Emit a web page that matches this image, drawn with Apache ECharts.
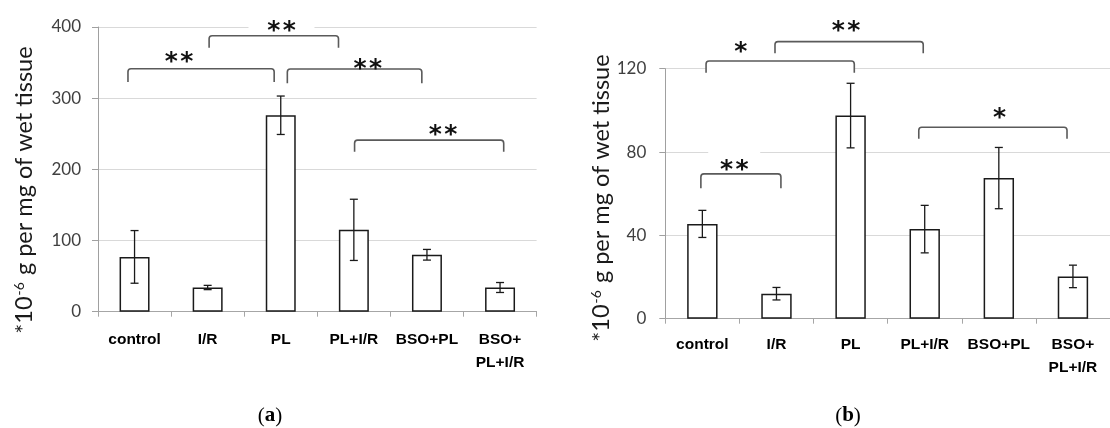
<!DOCTYPE html>
<html><head><meta charset="utf-8">
<script src="https://cdn.jsdelivr.net/npm/echarts@6/dist/echarts.min.js"></script>
<style>html,body{margin:0;padding:0;background:#fff}#c{width:1110px;height:428px}</style>
</head><body><div id="c"></div>
<script>
// ---------- data ----------
const categories = ['control', 'I/R', 'PL', 'PL+I/R', 'BSO+PL', 'BSO+\nPL+I/R'];
// panel (a)
const valuesA = [77, 34, 276, 115, 80, 34];
const errorsA = [37, 3, 27, 43, 7.5, 7];
const yMaxA = 400, yStepA = 100;
// significance brackets (a): [xStart, xEnd, yTop, yLegEnd, starX, starY] in category/value units
const bracketsA = [
  [-0.09, 1.91, 341.4, 322.7, 0.61, 360.7],
  [1.02, 2.79, 387.7, 370.9, 2.01, 405.6],
  [2.09, 3.93, 341.0, 320.9, 3.19, 352.0],
  [3.01, 5.05, 241.0, 224.8, 4.22, 258.5]
];
const starsA = [2, 2, 2, 2];
// panel (b)
const valuesB = [45.5, 12, 97.5, 43, 67.5, 20.3];
const errorsB = [6.5, 3, 15.5, 11.4, 14.7, 5.4];
const yMaxB = 120, yStepB = 40;
const bracketsB = [
  [0.05, 2.05, 123.7, 118.1, 0.52, 131.4],
  [0.98, 2.98, 133.0, 127.4, 1.94, 141.5],
  [-0.02, 1.06, 69.5, 62.6, 0.43, 75.1],
  [2.92, 4.92, 91.9, 86.4, 4.01, 99.7]
];
const starsB = [1, 2, 2, 1];
const yName = '*10{sup|-6} g per mg of wet tissue';

// ---------- styling ----------
const starBoxA = [0, 66, 0, 0];   // white text-box widths behind stars (px)
const starBoxB = [0, 0, 52, 0];

const chart = echarts.init(document.getElementById('c'), null, {renderer: 'canvas'});

function errRender(params, api) {
  const x = api.value(0), lo = api.value(1), hi = api.value(2);
  const a = api.coord([x, lo]), b = api.coord([x, hi]);
  const cw = 4;
  const st = {stroke: '#1a1a1a', lineWidth: 1.3};
  return {type: 'group', children: [
    {type: 'line', shape: {x1: a[0], y1: a[1], x2: b[0], y2: b[1]}, style: st},
    {type: 'line', shape: {x1: a[0] - cw, y1: a[1], x2: a[0] + cw, y2: a[1]}, style: st},
    {type: 'line', shape: {x1: b[0] - cw, y1: b[1], x2: b[0] + cw, y2: b[1]}, style: st}
  ]};
}

function makeBracketRender(stars, boxes) {
  return function (params, api) {
    const i = params.dataIndex;
    const x1 = api.value(0), x2 = api.value(1), yt = api.value(2), yl = api.value(3);
    const sx = api.value(4), sy = api.value(5);
    const p1 = api.coord([x1, yt]), p2 = api.coord([x2, yt]);
    const l1 = api.coord([x1, yl]), s = api.coord([sx, sy]);
    const children = [];
    if (boxes[i]) {
      children.push({type: 'rect', shape: {x: s[0] - boxes[i] / 2, y: s[1] - 13, width: boxes[i], height: 26},
        style: {fill: '#ffffff'}});
    }
    children.push({type: 'rect', shape: {x: p1[0], y: p1[1], width: p2[0] - p1[0], height: l1[1] - p1[1]},
      style: {fill: '#ffffff'}});
    const r = 3;
    children.push({type: 'path', shape: {
      pathData: 'M' + p1[0] + ' ' + l1[1] + ' L' + p1[0] + ' ' + (p1[1] + r) +
        ' Q' + p1[0] + ' ' + p1[1] + ' ' + (p1[0] + r) + ' ' + p1[1] +
        ' L' + (p2[0] - r) + ' ' + p2[1] + ' Q' + p2[0] + ' ' + p2[1] + ' ' + p2[0] + ' ' + (p2[1] + r) +
        ' L' + p2[0] + ' ' + l1[1]
    }, style: {stroke: '#5a5a5a', lineWidth: 1.6, fill: null}});
    let t = '';
    for (let k = 0; k < stars[i]; k++) t += '{s|*}';
    children.push({type: 'text', x: s[0], y: s[1] + 8, style: {
      text: t, font: 'bold 25px "DejaVu Sans"', fill: '#111', align: 'center', verticalAlign: 'middle',
      rich: {s: {fontSize: 25, fontFamily: 'DejaVu Sans', fontWeight: 'bold', fill: '#111', padding: [0, 1.2, 0, 1.2]}}}});
    return {type: 'group', children};
  };
}

function catAxis(grid, labelMargin) {
  return {
    type: 'category', gridIndex: grid, data: categories, boundaryGap: true,
    axisLine: {onZero: false, lineStyle: {color: '#a6a6a6', width: 1}},
    axisTick: {show: true, length: 5, lineStyle: {color: '#a6a6a6'}},
    axisLabel: {color: '#000', fontFamily: 'Liberation Sans', fontWeight: 'bold', fontSize: 15.5,
      lineHeight: 23, margin: labelMargin, interval: 0},
    splitLine: {show: false}
  };
}
function hiddenX(grid) {
  return {type: 'value', gridIndex: grid, min: -0.5, max: 5.5, show: false,
    axisLine: {show: false, onZero: false}, axisTick: {show: false}, axisLabel: {show: false},
    splitLine: {show: false}};
}
function valAxis(grid, max, step, margin) {
  return {
    type: 'value', gridIndex: grid, min: 0, max: max, interval: step,
    axisLine: {show: true, onZero: false, lineStyle: {color: '#a0a0a0', width: 1}},
    axisTick: {show: true, length: 6, lineStyle: {color: '#a0a0a0'}},
    axisLabel: {color: '#404040', fontFamily: 'Lato', fontSize: 17, margin: margin},
    splitLine: {show: true, lineStyle: {color: '#d9d9d9', width: 1}}
  };
}
const barStyle = {color: '#ffffff', borderColor: '#1a1a1a', borderWidth: 1.5};

const nameStyle = (x, y) => ({type: 'text', x: x, y: y, rotation: Math.PI / 2, style: {
  text: yName, font: '23.5px Lato', fill: '#1a1a1a', align: 'center', verticalAlign: 'middle',
  rich: {sup: {fontSize: 14, fontFamily: 'Lato', fill: '#1a1a1a', verticalAlign: 'top', padding: [0, 1, 10, 1]}}}});

const option = {
  animation: false,
  backgroundColor: '#ffffff',
  grid: [
    {left: 98, top: 27, width: 438.6, height: 284.7, containLabel: false},
    {left: 665.3, top: 68.7, width: 450.6, height: 250, containLabel: false}
  ],
  xAxis: [catAxis(0, 17), hiddenX(0), catAxis(1, 15), hiddenX(1)],
  yAxis: [valAxis(0, yMaxA, yStepA, 17), valAxis(1, yMaxB, yStepB, 19)],
  series: [
    {type: 'bar', xAxisIndex: 0, yAxisIndex: 0, data: valuesA, barWidth: '41%', itemStyle: barStyle},
    {type: 'custom', xAxisIndex: 1, yAxisIndex: 0, renderItem: errRender, z: 3,
      data: valuesA.map((v, i) => [i, v - errorsA[i], v + errorsA[i]])},
    {type: 'custom', xAxisIndex: 1, yAxisIndex: 0, renderItem: makeBracketRender(starsA, starBoxA), z: 4, clip: false,
      data: bracketsA},
    {type: 'bar', xAxisIndex: 2, yAxisIndex: 1, data: valuesB, barWidth: '41%', itemStyle: barStyle},
    {type: 'custom', xAxisIndex: 3, yAxisIndex: 1, renderItem: errRender, z: 3,
      data: valuesB.map((v, i) => [i, v - errorsB[i], v + errorsB[i]])},
    {type: 'custom', xAxisIndex: 3, yAxisIndex: 1, renderItem: makeBracketRender(starsB, starBoxB), z: 4, clip: false,
      data: bracketsB}
  ],
  graphic: [
    nameStyle(24, 190),
    nameStyle(601, 198),
    {type: 'text', x: 270, y: 416, style: {
      text: '({b|a})', font: '21px "Liberation Serif"', fill: '#000', align: 'center', verticalAlign: 'middle',
      rich: {b: {fontSize: 21, fontFamily: 'Liberation Serif', fontWeight: 'bold', fill: '#000'}}}},
    {type: 'text', x: 848, y: 416, style: {
      text: '({b|b})', font: '21px "Liberation Serif"', fill: '#000', align: 'center', verticalAlign: 'middle',
      rich: {b: {fontSize: 21, fontFamily: 'Liberation Serif', fontWeight: 'bold', fill: '#000'}}}}
  ]
};
chart.setOption(option);
</script>
</body></html>
